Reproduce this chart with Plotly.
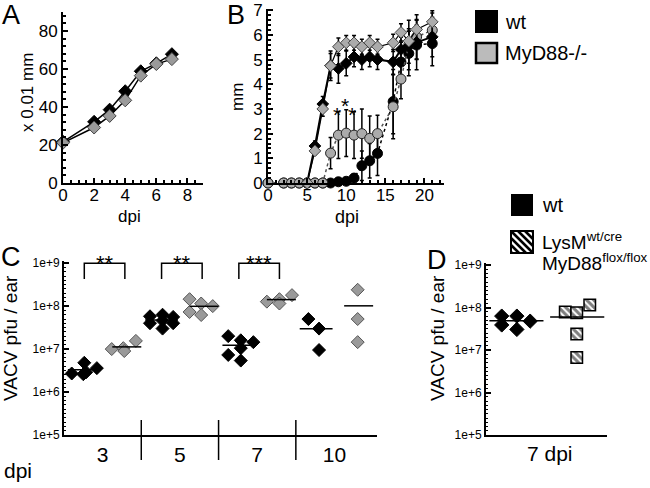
import numpy as np
import plotly.graph_objects as go

W, H = 650, 488
FONT = "Liberation Sans, Arial, Helvetica, sans-serif"


def px(x):
    return x / W


def py(y):
    return 1 - y / H


# ---------------- Panel A data ----------------
a_days = [0, 2, 3, 4, 5, 6, 7]
a_wt = [21.7, 32.2, 38.6, 48.3, 58.8, 63.0, 67.8]
a_ko = [21.2, 29.2, 35.3, 43.5, 56.5, 62.6, 65.2]

# ---------------- Panel B data ----------------
b_dia_days = [5, 6, 7, 8, 9, 10, 11, 12, 13, 14, 16, 17, 18, 19, 21]
b_dia_wt = [0, 1.5, 3.2, 4.75, 4.64, 4.85, 5.11, 5.0, 5.11, 5.0, 4.91, 5.41, 5.55, 5.7, 5.92]
b_dia_wt_err = [0, 0.2, 0.3, 0.6, 0.6, 0.5, 0.4, 0.4, 0.4, 0.4, 0.5, 0.5, 0.7, 0.7, 0.8]
b_dia_ko = [0, 1.3, 3.0, 4.75, 5.52, 5.68, 5.68, 5.52, 5.68, 5.52, 5.68, 6.1, 5.75, 6.22, 6.53]
b_dia_ko_err = [0, 0.15, 0.3, 0.5, 0.35, 0.3, 0.3, 0.3, 0.3, 0.3, 0.35, 0.35, 0.4, 0.4, 0.45]

b_cir_days = [0, 2, 3, 4, 5, 6, 7, 8, 9, 10, 11, 12, 13, 14, 16, 17, 18, 19, 21]
b_cir_wt = [0, 0, 0, 0, 0, 0, 0, 0.0, 0.05, 0.07, 0.2, 0.7, 0.9, 1.2, 3.3, 4.9, 5.25, 5.59, 5.65]
b_cir_wt_err = [0, 0, 0, 0, 0, 0, 0, 0, 0.05, 0.07, 0.15, 0.6, 0.7, 0.9, 1.3, 0.8, 0.9, 1.0, 0.9]
b_cir_ko = [0, 0, 0, 0, 0, 0, 0, 1.21, 1.94, 2.02, 1.94, 2.0, 1.81, 2.0, 3.09, 4.21, 5.59, 5.92, 6.19]
b_cir_ko_err = [0, 0, 0, 0, 0, 0, 0, 0.63, 0.95, 0.95, 0.95, 1.0, 0.9, 0.75, 1.3, 0.8, 1.0, 0.9, 0.7]

b_star_days = [9, 10, 11]
b_star_vals = [3.1, 3.45, 3.1]

# ---------------- Panel C data ----------------
c_groups = ["3", "5", "7", "10"]
c_wt_vals = [
    [2.7e6, 4.8e6, 2.6e6, 2.9e6, 3.6e6],
    [5.8e7, 4.0e7, 6.3e7, 4.6e7, 3.0e7, 5.6e7, 4.0e7],
    [2.0e7, 7.3e6, 1.6e7, 1.05e7, 5.4e6, 1.45e7],
    [5.0e7, 3.0e7, 9.5e6],
]
c_wt_jit = [
    [0.4, 1.05, 1.0, 1.15, 1.7],
    [0.45, 0.45, 1.1, 1.1, 1.1, 1.65, 1.65],
    [0.5, 0.5, 1.15, 1.15, 1.15, 1.8],
    [0.65, 1.2, 1.2],
]
c_ko_vals = [
    [1.0e7, 1.05e7, 9.0e6, 1.55e7],
    [1.45e8, 7.3e7, 1.15e8, 6.2e7, 1.0e8],
    [1.27e8, 1.45e8, 1.15e8, 1.8e8],
    [2.4e8, 5.0e7, 1.45e7],
]
c_ko_jit = [
    [2.47, 3.07, 3.12, 3.72],
    [2.5, 2.5, 3.1, 3.1, 3.7],
    [2.5, 3.15, 3.15, 3.8],
    [3.2, 3.2, 3.2],
]
c_sig = ["**", "**", "***", ""]

# ---------------- Panel D data ----------------
d_wt_vals = [6.3e7, 3.9e7, 6.3e7, 3.06e7, 4.8e7]
d_wt_jit = [0.52, 0.52, 1.02, 1.02, 1.46]
d_cre_vals = [7.9e7, 7.6e7, 1.15e8, 2.4e7, 6.7e6]
d_cre_jit = [2.62, 3.0, 3.43, 3.0, 3.0]

GRAY = "#9a9a9a"
LGRAY = "#ababab"

fig = go.Figure()

# ---------- A ----------
fig.add_trace(go.Scatter(x=a_days, y=a_wt, mode="lines+markers", xaxis="x", yaxis="y",
                         line=dict(color="black", width=1.5),
                         marker=dict(symbol="diamond", size=10, color="black",
                                     line=dict(color="black", width=1)),
                         cliponaxis=False))
fig.add_trace(go.Scatter(x=a_days, y=a_ko, mode="lines+markers", xaxis="x", yaxis="y",
                         line=dict(color="black", width=1.5),
                         marker=dict(symbol="diamond", size=10, color=GRAY,
                                     line=dict(color="#444", width=1)),
                         cliponaxis=False))

# ---------- B ----------
err = dict(type="data", color="black", thickness=1.5, width=2)
fig.add_trace(go.Scatter(x=b_cir_days, y=b_cir_wt, mode="lines+markers", xaxis="x2", yaxis="y2",
                         line=dict(color="black", width=1.5, dash="dot"),
                         marker=dict(symbol="circle", size=10, color="black",
                                     line=dict(color="black", width=1)),
                         error_y=dict(err, array=b_cir_wt_err), cliponaxis=False))
fig.add_trace(go.Scatter(x=b_cir_days, y=b_cir_ko, mode="lines+markers", xaxis="x2", yaxis="y2",
                         line=dict(color="#555", width=1.5, dash="dot"),
                         marker=dict(symbol="circle", size=10, color=LGRAY,
                                     line=dict(color="#222", width=1)),
                         error_y=dict(err, array=b_cir_ko_err), cliponaxis=False))
fig.add_trace(go.Scatter(x=b_dia_days, y=b_dia_wt, mode="lines+markers", xaxis="x2", yaxis="y2",
                         line=dict(color="black", width=2),
                         marker=dict(symbol="diamond", size=9, color="black",
                                     line=dict(color="black", width=1)),
                         error_y=dict(err, array=b_dia_wt_err), cliponaxis=False))
fig.add_trace(go.Scatter(x=b_dia_days, y=b_dia_ko, mode="lines+markers", xaxis="x2", yaxis="y2",
                         line=dict(color="black", width=1.2),
                         marker=dict(symbol="diamond", size=9, color=LGRAY,
                                     line=dict(color="#444", width=1)),
                         error_y=dict(err, array=b_dia_ko_err), cliponaxis=False))

# ---------- C ----------
for g, lab in enumerate(c_groups):
    base = 4 * g
    fig.add_trace(go.Scatter(x=[base + j for j in c_wt_jit[g]], y=c_wt_vals[g], mode="markers",
                             xaxis="x3", yaxis="y3",
                             marker=dict(symbol="diamond", size=10, color="black",
                                         line=dict(color="black", width=1)), cliponaxis=False))
    fig.add_trace(go.Scatter(x=[base + j for j in c_ko_jit[g]], y=c_ko_vals[g], mode="markers",
                             xaxis="x3", yaxis="y3",
                             marker=dict(symbol="diamond", size=10, color=GRAY,
                                         line=dict(color="#555", width=1)), cliponaxis=False))
    mw = float(np.mean(c_wt_vals[g]))
    mk = float(np.mean(c_ko_vals[g]))
    fig.add_trace(go.Scatter(x=[base + 0.2, base + 1.9], y=[mw, mw], mode="lines",
                             xaxis="x3", yaxis="y3", line=dict(color="black", width=1.5)))
    fig.add_trace(go.Scatter(x=[base + 2.5, base + 4.0], y=[mk, mk], mode="lines",
                             xaxis="x3", yaxis="y3", line=dict(color="black", width=1.5)))
    if c_sig[g]:
        fig.add_trace(go.Scatter(x=[base + 1.05, base + 1.05, base + 3.15, base + 3.15],
                                 y=[4.3e8, 1e9, 1e9, 4.3e8], mode="lines",
                                 xaxis="x3", yaxis="y3", line=dict(color="black", width=1.5),
                                 cliponaxis=False))

# ---------- D ----------
fig.add_trace(go.Scatter(x=d_wt_jit, y=d_wt_vals, mode="markers", xaxis="x4", yaxis="y4",
                         marker=dict(symbol="diamond", size=11, color="black",
                                     line=dict(color="black", width=1)), cliponaxis=False))
half = 10 ** 0.135
fig.add_trace(go.Bar(x=d_cre_jit, y=[v * half - v / half for v in d_cre_vals],
                     base=[v / half for v in d_cre_vals], width=0.38,
                     xaxis="x4", yaxis="y4",
                     marker=dict(color="white", line=dict(color="black", width=1.5),
                                 pattern=dict(shape="\\", fgcolor="black", bgcolor="white",
                                              size=5, solidity=0.6))))
mdw = float(np.mean(d_wt_vals))
mdc = float(np.mean(d_cre_vals))
fig.add_trace(go.Scatter(x=[0.11, 1.9], y=[mdw, mdw], mode="lines", xaxis="x4", yaxis="y4",
                         line=dict(color="black", width=1.5)))
fig.add_trace(go.Scatter(x=[2.12, 3.91], y=[mdc, mdc], mode="lines", xaxis="x4", yaxis="y4",
                         line=dict(color="black", width=1.5)))

# ---------- axes ----------
common = dict(showline=True, linecolor="black", linewidth=2, showgrid=False, zeroline=False,
              automargin=False, tickcolor="black", tickfont=dict(family=FONT, color="black"))

log_minor = [10 ** (5 + k * 0.1) for k in range(0, 41) if k % 10 != 0]

fig.update_layout(
    xaxis=dict(common, domain=[px(63), px(203)], range=[0, 9], anchor="y",
               ticks="inside", ticklen=5, tickwidth=1.5, dtick=2, tick0=0,
               ticklabelstandoff=-4,
               tickfont=dict(family=FONT, size=17, color="black"),
               minor=dict(ticks="inside", ticklen=3, dtick=0.5, tickcolor="black")),
    yaxis=dict(common, domain=[py(183), py(12)], range=[0, 90], anchor="x",
               ticks="inside", ticklen=5, tickwidth=1.5, dtick=20, tick0=0,
               tickfont=dict(family=FONT, size=17, color="black"),
               minor=dict(ticks="inside", ticklen=3, dtick=4, tickcolor="black")),
    xaxis2=dict(common, domain=[px(268), px(444)], range=[0, 22.5], anchor="y2",
                ticks="inside", ticklen=5, tickwidth=1.5, dtick=5, tick0=0,
                ticklabelstandoff=-4,
                tickfont=dict(family=FONT, size=17, color="black"),
                minor=dict(ticks="inside", ticklen=3, dtick=1, tickcolor="black")),
    yaxis2=dict(common, domain=[py(183), py(9)], range=[0, 7.05], anchor="x2",
                ticks="inside", ticklen=5, tickwidth=1.5, dtick=1, tick0=0,
                tickfont=dict(family=FONT, size=17, color="black"),
                minor=dict(ticks="inside", ticklen=3, dtick=0.2, tickcolor="black")),
    xaxis3=dict(common, domain=[px(64), px(377)], range=[0, 16.2], anchor="y3",
                ticks="", tickvals=[2, 6, 10, 14], ticktext=c_groups,
                tickfont=dict(family=FONT, size=21, color="black")),
    yaxis3=dict(common, type="log", domain=[py(435), py(261)], range=[5, 9.05], anchor="x3",
                ticks="inside", ticklen=5, tickwidth=1.5,
                tickvals=[1e5, 1e6, 1e7, 1e8, 1e9],
                ticktext=["1e+5", "1e+6", "1e+7", "1e+8", "1e+9"],
                tickfont=dict(family=FONT, size=12, color="black"),
                minor=dict(ticks="inside", ticklen=2, tickwidth=1, tickmode="array",
                           tickvals=log_minor, tickcolor="black")),
    xaxis4=dict(common, domain=[px(486), px(607)], range=[0, 4], anchor="y4",
                ticks="", showticklabels=False),
    yaxis4=dict(common, type="log", domain=[py(435), py(263)], range=[5, 9.05], anchor="x4",
                ticks="inside", ticklen=5, tickwidth=1.5,
                tickvals=[1e5, 1e6, 1e7, 1e8, 1e9],
                ticktext=["1e+5", "1e+6", "1e+7", "1e+8", "1e+9"],
                tickfont=dict(family=FONT, size=12, color="black"),
                minor=dict(ticks="inside", ticklen=2, tickwidth=1, tickmode="array",
                           tickvals=log_minor, tickcolor="black")),
    barmode="overlay",
)

# ---------- annotations ----------
ann = []


def text(x, y, t, size, angle=0, xanchor="center", yanchor="middle"):
    ann.append(dict(x=px(x), y=py(y), xref="paper", yref="paper", text=t, showarrow=False,
                    textangle=angle, xanchor=xanchor, yanchor=yanchor,
                    font=dict(family=FONT, size=size, color="black")))


text(11, -2, "A", 27, yanchor="top")
text(236, -2, "B", 27, yanchor="top")
text(11, 257, "C", 27)
text(437, 260, "D", 27)
text(28, 93, "x 0.01 mm", 17, angle=-90)
text(129, 216, "dpi", 17)
text(238, 97, "mm", 17, angle=-90)
text(347, 217, "dpi", 18)
text(10, 338, "VACV pfu / ear", 19, angle=-90)
text(437, 338, "VACV pfu / ear", 19, angle=-90)
text(18, 470, "dpi", 21)
text(550, 453, "7 dpi", 21)

# legends text
text(503, 22, "wt", 20, xanchor="left")
text(503, 53, "MyD88-/-", 20, xanchor="left")
text(540, 205, "wt", 20, xanchor="left")
text(540, 241, "LysM<sup>wt/cre</sup>", 19, xanchor="left")
text(540, 262, "MyD88<sup>flox/flox</sup>", 19, xanchor="left")

# significance stars C
for g, s in enumerate(c_sig):
    if s:
        ann.append(dict(x=4 * g + 2.1, y=py(263), xref="x3", yref="paper", text=s,
                        showarrow=False, font=dict(family=FONT, size=22, color="black")))

# stars B
for d, v in zip(b_star_days, b_star_vals):
    ann.append(dict(x=d - 0.2, y=v, xref="x2", yref="y2", text="*", showarrow=False,
                    yshift=-8, font=dict(family=FONT, size=21, color="black")))

fig.update_layout(annotations=ann)

# ---------- shapes: separators & legends ----------
shapes = []
for xs in [4, 8, 12]:
    shapes.append(dict(type="line", xref="x3", yref="y3 domain", x0=xs, x1=xs,
                       y0=-25 / 174, y1=15 / 174, line=dict(color="black", width=1.5)))


def rect(x0, y0, x1, y1, fill, lc="black", lw=0):
    shapes.append(dict(type="rect", xref="paper", yref="paper", x0=px(x0), x1=px(x1),
                       y0=py(y1), y1=py(y0), fillcolor=fill,
                       line=dict(color=lc, width=lw)))


rect(475, 10, 498, 33, "black")
rect(476, 43, 497, 63, "#bbbbbb", "black", 2.5)
rect(511, 194, 533, 216, "black")
# hatched legend square
sx0, sy0, side = 511, 231, 22
rect(sx0, sy0, sx0 + side, sy0 + side, "white")
for c in range(-21, 22, 7):
    if c >= 0:
        p0, p1 = (0, c), (side - c, side)
    else:
        p0, p1 = (-c, 0), (side, side + c)
    shapes.append(dict(type="line", xref="paper", yref="paper",
                       x0=px(sx0 + p0[0]), y0=py(sy0 + p0[1]),
                       x1=px(sx0 + p1[0]), y1=py(sy0 + p1[1]),
                       line=dict(color="black", width=2.5)))
rect(sx0, sy0, sx0 + side, sy0 + side, "rgba(0,0,0,0)", "black", 2)

fig.update_layout(shapes=shapes)

fig.update_layout(width=W, height=H, margin=dict(l=0, r=0, t=0, b=0, pad=0, autoexpand=False),
                  plot_bgcolor="white", paper_bgcolor="white", showlegend=False,
                  font=dict(family=FONT, color="black"))

fig.write_html("out.html", config={"displayModeBar": False},
               post_script="document.body.style.margin='0';document.body.style.overflow='hidden';")
